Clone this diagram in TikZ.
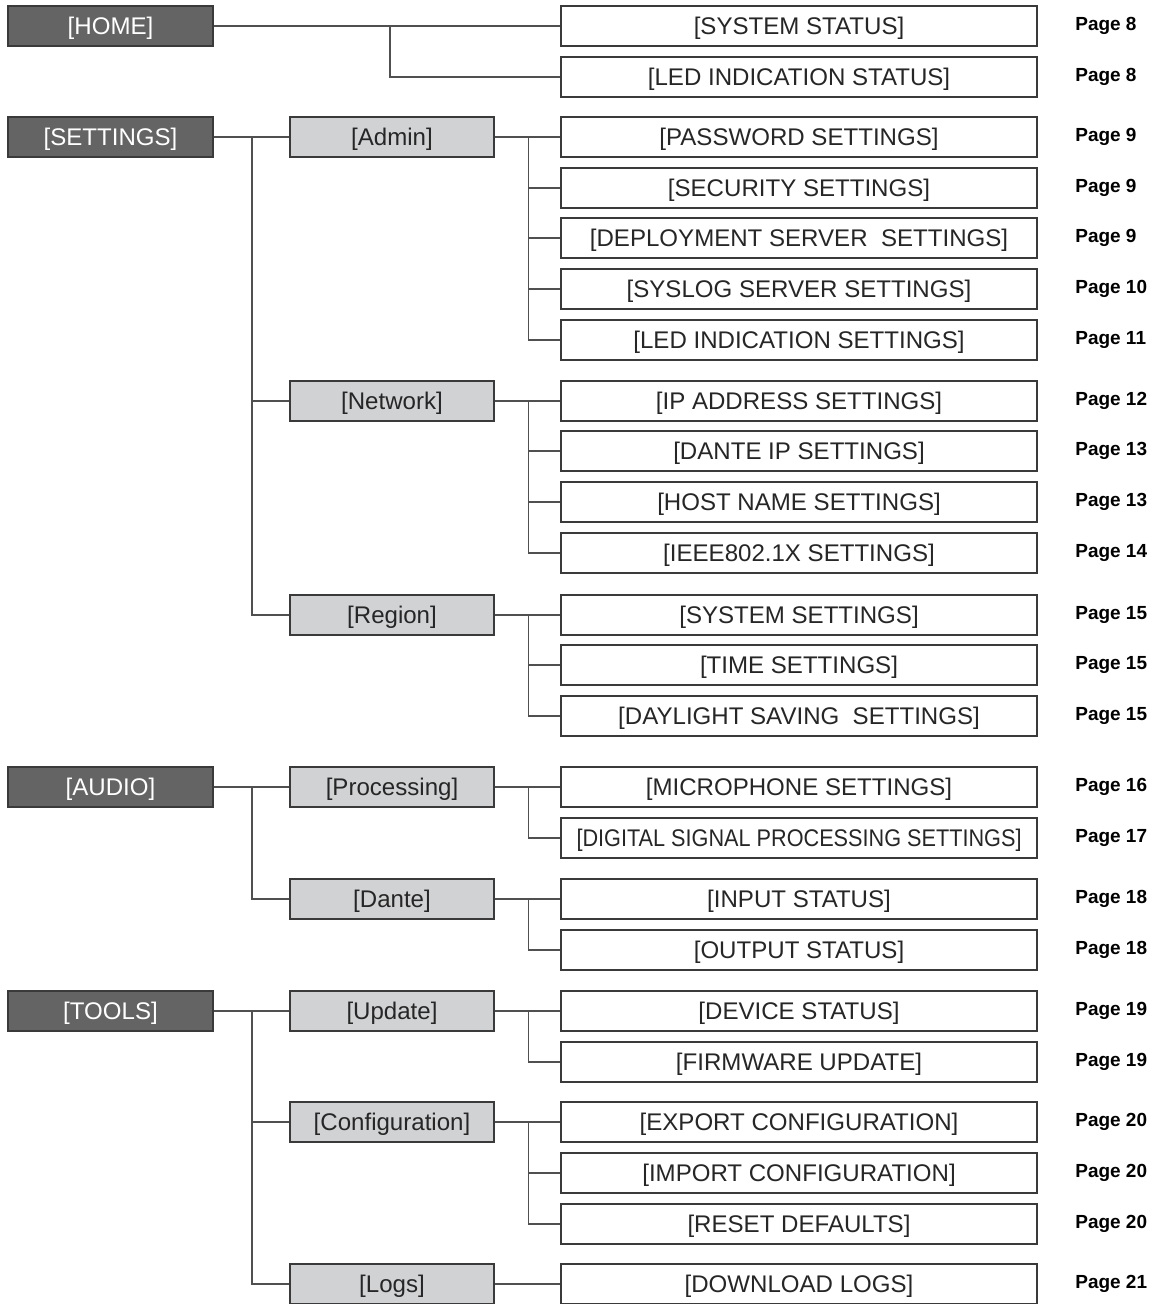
\documentclass[tikz,border=0pt]{standalone}
\usepackage{fontspec}
\setmainfont{Liberation Sans}
\usetikzlibrary{positioning}

\definecolor{topgray}{HTML}{646464}
\definecolor{midgray}{HTML}{D1D2D4}
\definecolor{edgegray}{HTML}{3A3A3A}
\definecolor{linegray}{HTML}{505050}

% columns, in pixels of the page
\newcommand*{\xTop}{110.5}
\newcommand*{\xMid}{392}
\newcommand*{\xLeaf}{799}
\newcommand*{\xPage}{1075}
\newcommand*{\xBusTop}{252}
\newcommand*{\xBusMid}{528}

\tikzset{
  menubox/.style={draw=edgegray, line width=0.75pt, minimum height=0.8cm, inner sep=0pt,
    text height=9.8pt, text depth=0pt, font=\fontsize{13.7}{15}\selectfont},
  topbox/.style={menubox, fill=topgray, text=white, minimum width=4.1cm},
  midbox/.style={menubox, fill=midgray, text=black!85, minimum width=4.08cm},
  leafbox/.style={menubox, fill=white, text=black!85, minimum width=9.52cm},
  pagelbl/.style={anchor=west, inner sep=0pt, font=\fontsize{10.8}{12}\bfseries\selectfont},
  conn/.style={draw=linegray, line width=0.75pt}
}

\begin{document}
\begin{tikzpicture}[x=0.02cm, y=-0.02cm]
\useasboundingbox (0,0) rectangle (1162,1304);

% top level
\node[topbox] (t1) at (\xTop,26)   {[HOME]};
\node[topbox] (t2) at (\xTop,137)  {[SETTINGS]};
\node[topbox] (t3) at (\xTop,787)  {[AUDIO]};
\node[topbox] (t4) at (\xTop,1011) {[TOOLS]};

% second level
\foreach \n/\y/\t in {1/137/{[Admin]}, 2/401/{[Network]}, 3/615/{[Region]},
    4/787/{[Processing]}, 5/899/{[Dante]}, 6/1011/{[Update]},
    7/1122/{[Configuration]}, 8/1284/{[Logs]}} {
    \node[midbox] (m\n) at (\xMid,\y) {\t};
}

% pages
\foreach \n/\y/\t/\p in {1/26/{[SYSTEM STATUS]}/8, 2/77/{[LED INDICATION STATUS]}/8,
    3/137/{[PASSWORD SETTINGS]}/9, 4/188/{[SECURITY SETTINGS]}/9,
    5/238/{[DEPLOYMENT SERVER\ \ SETTINGS]}/9, 6/289/{[SYSLOG SERVER SETTINGS]}/10,
    7/340/{[LED INDICATION SETTINGS]}/11, 8/401/{[IP ADDRESS SETTINGS]}/12,
    9/451/{[DANTE IP SETTINGS]}/13, 10/502/{[HOST NAME SETTINGS]}/13,
    11/553/{[IEEE802.1X SETTINGS]}/14, 12/615/{[SYSTEM SETTINGS]}/15,
    13/665/{[TIME SETTINGS]}/15, 14/716/{[DAYLIGHT SAVING\ \ SETTINGS]}/15,
    15/787/{[MICROPHONE SETTINGS]}/16,
    16/838/{\scalebox{0.9}[1]{[DIGITAL SIGNAL PROCESSING SETTINGS]}}/17,
    17/899/{[INPUT STATUS]}/18, 18/950/{[OUTPUT STATUS]}/18,
    19/1011/{[DEVICE STATUS]}/19, 20/1062/{[FIRMWARE UPDATE]}/19,
    21/1122/{[EXPORT CONFIGURATION]}/20, 22/1173/{[IMPORT CONFIGURATION]}/20,
    23/1224/{[RESET DEFAULTS]}/20, 24/1284/{[DOWNLOAD LOGS]}/21} {
    \node[leafbox] (l\n) at (\xLeaf,\y) {\t};
    \node[pagelbl] (p\n) at (\xPage,\y) {Page \p};
}

% HOME
\draw[conn] (t1.east) -- (l1.west);
\coordinate (hb) at (390,26);
\draw[conn] (hb) |- (l2.west);

% top level buses
\draw[conn] (t2.east) -- (m1.west);
\coordinate (sb) at (\xBusTop,137);
\draw[conn] (sb) |- (m2.west);
\draw[conn] (sb) |- (m3.west);

\draw[conn] (t3.east) -- (m4.west);
\coordinate (ub) at (\xBusTop,787);
\draw[conn] (ub) |- (m5.west);

\draw[conn] (t4.east) -- (m6.west);
\coordinate (tb) at (\xBusTop,1011);
\draw[conn] (tb) |- (m7.west);
\draw[conn] (tb) |- (m8.west);

% second level buses
\foreach \m/\f in {1/3, 2/8, 3/12, 4/15, 5/17, 6/19, 7/21, 8/24} {
    \draw[conn] (m\m.east) -- (l\f.west);
    \coordinate (b\m) at ([xshift=0.68cm]m\m.east);
}
\foreach \m/\i in {1/4, 1/5, 1/6, 1/7, 2/9, 2/10, 2/11, 3/13, 3/14,
    4/16, 5/18, 6/20, 7/22, 7/23} {
    \draw[conn] (b\m) |- (l\i.west);
}

\end{tikzpicture}
\end{document}
